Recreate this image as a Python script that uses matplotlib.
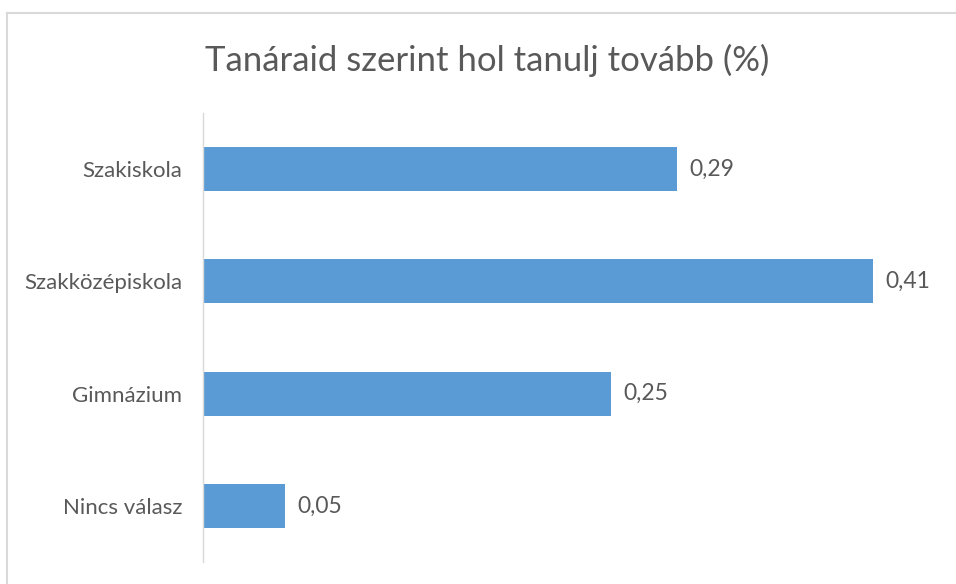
import matplotlib
matplotlib.use("Agg")
from matplotlib import pyplot as plt
from matplotlib.lines import Line2D

categories = ["Szakiskola", "Szakközépiskola", "Gimnázium", "Nincs válasz"]
values = [0.29, 0.41, 0.25, 0.05]
title = "Tanáraid szerint hol tanulj tovább (%)"

W, H = 956, 584
grey = "#595959"
plt.rcParams["font.family"] = ["Lato", "DejaVu Sans"]

fig = plt.figure(figsize=(W / 100, H / 100), dpi=100)

# chart border (only left and top show in the crop)
fig.add_artist(Line2D([7 / W, 7 / W], [0, 1 - 13 / H], color="#d9d9d9", lw=1.5,
                      transform=fig.transFigure))
fig.add_artist(Line2D([7 / W, 1], [1 - 13 / H, 1 - 13 / H], color="#d9d9d9", lw=1.5,
                      transform=fig.transFigure))

fig.text(487 / W, 1 - 60 / H, title, ha="center", va="center", fontsize=25, color=grey)

left, right, top, bottom = 203, 938, 113, 562
ax = fig.add_axes([left / W, 1 - bottom / H, (right - left) / W, (bottom - top) / H])

ypos = list(range(len(categories)))
ax.barh(ypos, values, height=0.39, color="#5B9BD5", zorder=2)
ax.set_ylim(len(categories) - 0.5, -0.5)
ax.set_xlim(0, 0.45)
ax.set_yticks(ypos)
ax.set_yticklabels(categories, fontsize=16, color=grey)
ax.tick_params(axis="y", length=0, pad=15)
ax.set_xticks([])

for s in ["top", "right", "bottom"]:
    ax.spines[s].set_visible(False)
ax.spines["left"].set_color("#d9d9d9")
ax.spines["left"].set_linewidth(1.0)

for y, v in zip(ypos, values):
    ax.annotate(f"{v:.2f}".replace(".", ","), xy=(v, y), xytext=(9, 0),
                textcoords="offset points", va="center", ha="left",
                fontsize=16.5, color=grey)

fig.savefig("out.png", dpi=100)
